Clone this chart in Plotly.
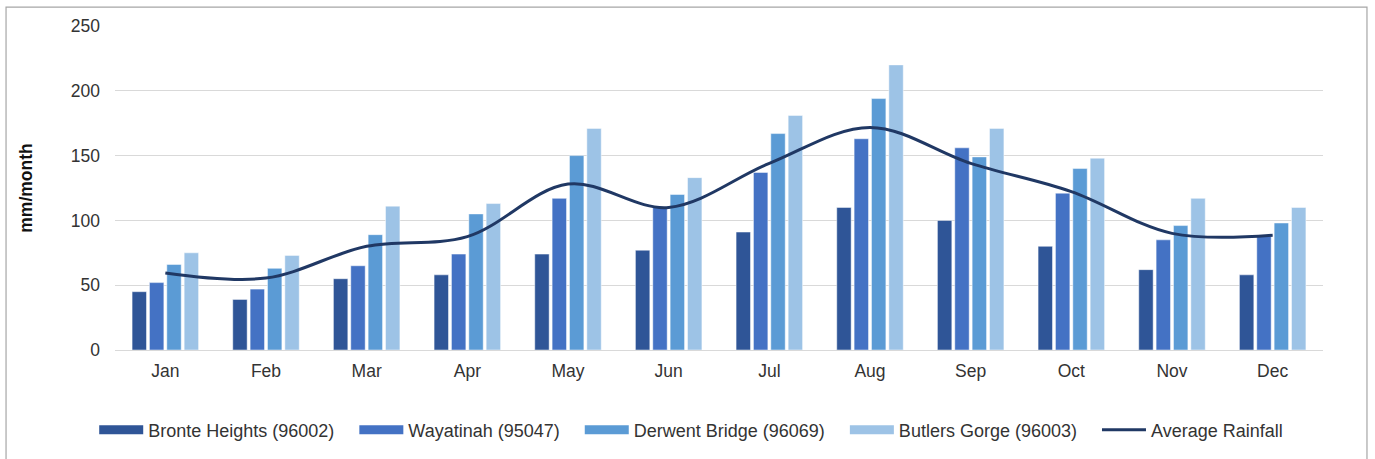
import plotly.graph_objects as go

months = ["Jan", "Feb", "Mar", "Apr", "May", "Jun", "Jul", "Aug", "Sep", "Oct", "Nov", "Dec"]
bronte = [45, 39, 55, 58, 74, 77, 91, 110, 100, 80, 62, 58]
wayatinah = [52, 47, 65, 74, 117, 110, 137, 163, 156, 121, 85, 88]
derwent = [66, 63, 89, 105, 150, 120, 167, 194, 149, 140, 96, 98]
butlers = [75, 73, 111, 113, 171, 133, 181, 220, 171, 148, 117, 110]
average = [59.5, 55.5, 80, 87.5, 128, 110, 144, 171.75, 144, 122.25, 90, 88.5]

series = [
    ("Bronte Heights (96002)", bronte, "#2F5597"),
    ("Wayatinah (95047)", wayatinah, "#4472C4"),
    ("Derwent Bridge (96069)", derwent, "#5B9BD5"),
    ("Butlers Gorge (96003)", butlers, "#9DC3E6"),
]
avg_name = "Average Rainfall"
avg_color = "#203864"
font_family = "Liberation Sans, Arial, sans-serif"
text_color = "#333333"
pad = "\u00a0\u00a0\u00a0"

fig = go.Figure()
for name, vals, col in series:
    fig.add_trace(go.Bar(x=months, y=vals, name=name, marker_color=col,
                         marker_line=dict(color="rgba(255,255,255,0.6)", width=0.8),
                         showlegend=False))
fig.add_trace(go.Scatter(x=months, y=average, name=avg_name, mode="lines",
                         line=dict(color=avg_color, width=3, shape="spline", smoothing=1),
                         showlegend=False))
# legend entries
for name, vals, col in series:
    fig.add_trace(go.Scatter(x=[None], y=[None], name=name + pad, mode="lines",
                             line=dict(color=col, width=9)))
fig.add_trace(go.Scatter(x=[None], y=[None], name=avg_name, mode="lines",
                         line=dict(color=avg_color, width=3)))

fig.update_layout(
    width=1375, height=459,
    margin=dict(l=115, r=52, t=26, b=108),
    paper_bgcolor="white", plot_bgcolor="white",
    font=dict(family=font_family, size=18, color=text_color),
    barmode="group", bargap=0.31, bargroupgap=0.17,
    legend=dict(orientation="h", x=0.477, xanchor="center", y=-0.243, yanchor="middle",
                font=dict(size=18, color=text_color), itemwidth=44),
    xaxis=dict(showgrid=False, showline=False, ticks="", ticklabelstandoff=8,
               tickfont=dict(size=17.5)),
    yaxis=dict(range=[0, 250], dtick=50, showgrid=True, gridcolor="#d9d9d9", gridwidth=1.3,
               zeroline=True, zerolinecolor="#d9d9d9", zerolinewidth=1.3, showline=False,
               ticks="", ticklabelstandoff=14, tickfont=dict(size=17.5),
               title=dict(text="<b>mm/month</b>", font=dict(size=17.5, color="#111111"), standoff=33)),
    shapes=[dict(type="rect", xref="paper", yref="paper", x0=-0.0902, x1=1.0364, y0=-0.4, y1=1.0585,
                 line=dict(color="#a6a6a6", width=1.2), fillcolor="rgba(0,0,0,0)", layer="below")],
)

fig.write_html("out.html", config={"displayModeBar": False},
               post_script="document.body.style.margin='0';document.body.style.overflow='hidden';")
